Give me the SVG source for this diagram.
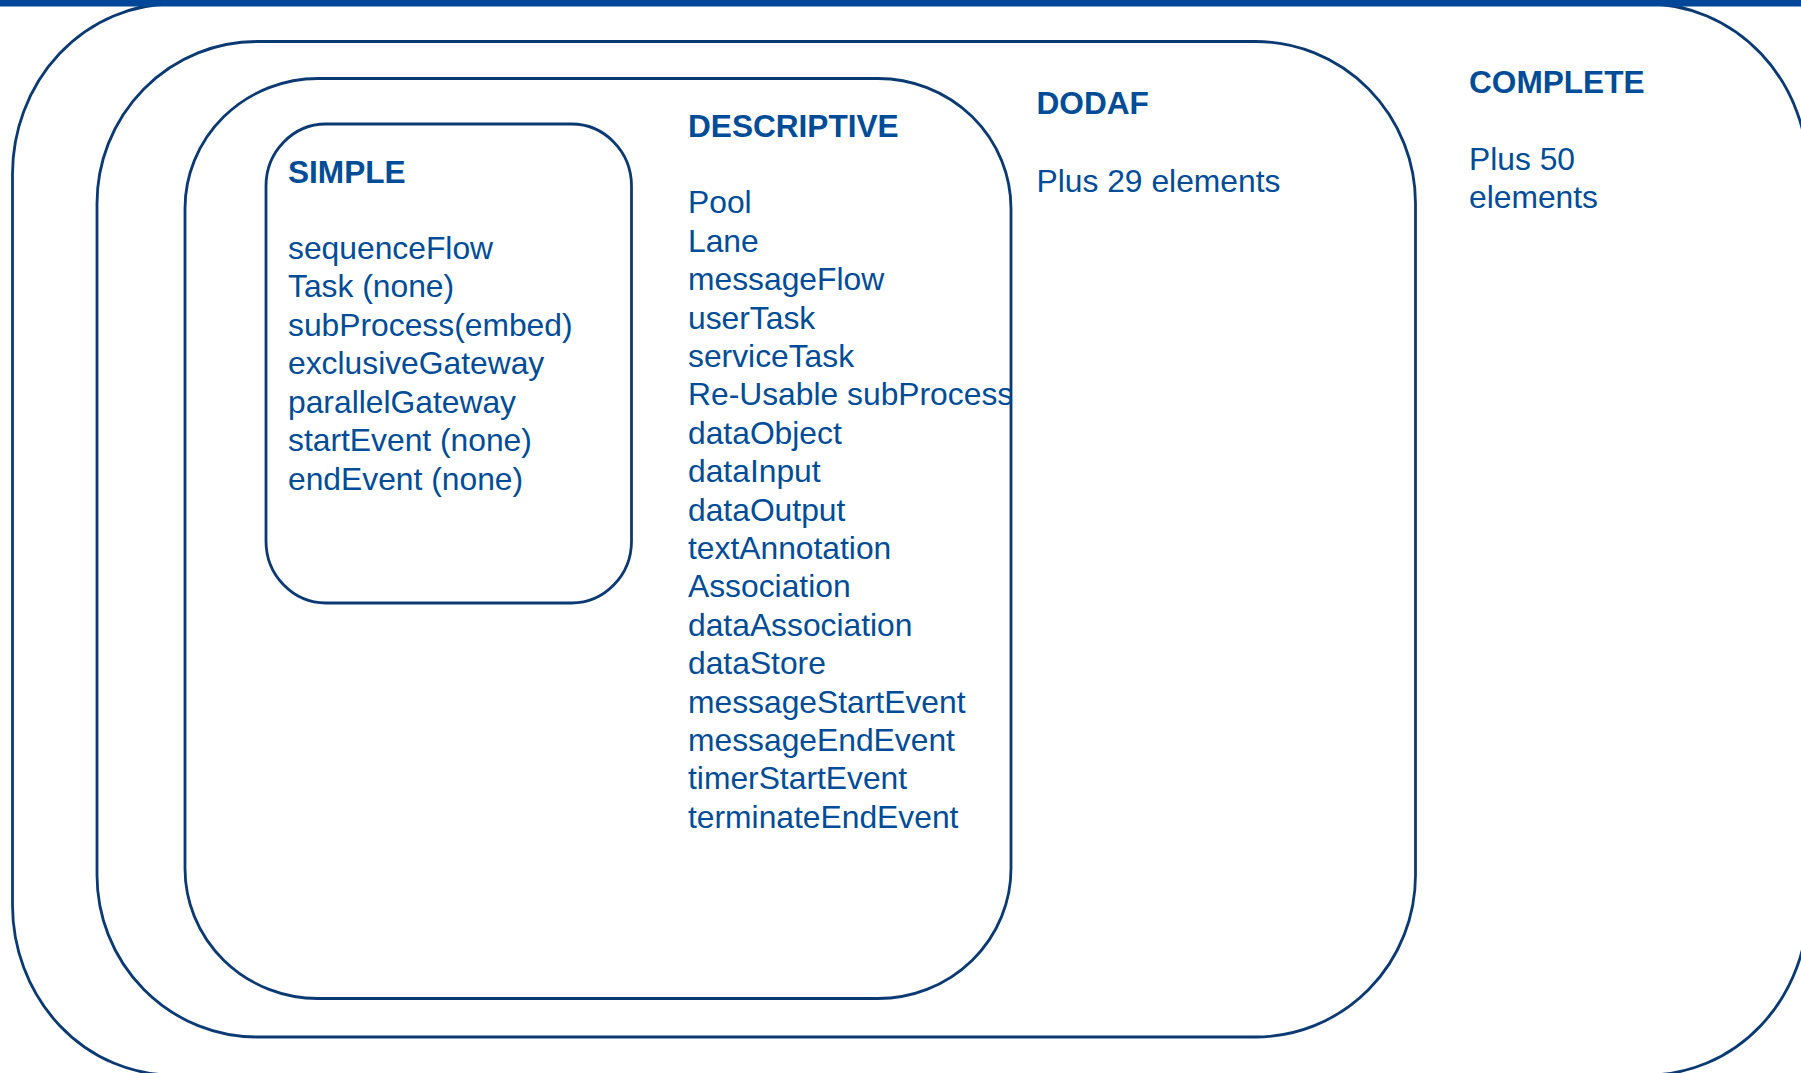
<svg xmlns="http://www.w3.org/2000/svg" width="1801" height="1073" viewBox="0 0 1801 1073">
<style>
.box{fill:none;stroke:#0b3a73;stroke-width:2.8}
.h{font-family:"Liberation Sans",Arial,sans-serif;font-weight:bold;font-size:31.6px;fill:#004c97}
.t{font-family:"Liberation Sans",Arial,sans-serif;font-size:31.8px;fill:#004c97}
</style>
<rect x="0" y="0" width="1801" height="1073" fill="#ffffff"/>
<g id="complete">
<rect class="box" x="12.5" y="4" width="1795.5" height="1071" rx="160" ry="170"/>
<text class="h" x="1469" y="93">COMPLETE</text>
<text class="t" x="1469" y="170">Plus 50</text>
<text class="t" x="1469" y="208">elements</text>
</g>
<rect x="0" y="0" width="1801" height="6.5" fill="#00479a"/>
<g id="dodaf">
<rect class="box" x="97" y="41.5" width="1318.5" height="995.5" rx="160" ry="162"/>
<text class="h" x="1036.5" y="114">DODAF</text>
<text class="t" x="1036.5" y="191.5">Plus 29 elements</text>
</g>
<g id="descriptive">
<rect class="box" x="185" y="78.5" width="826" height="920" rx="133" ry="130"/>
<text class="h" x="688" y="136.5">DESCRIPTIVE</text>
<text class="t" x="688" y="213.3">Pool</text>
<text class="t" x="688" y="251.7">Lane</text>
<text class="t" x="688" y="290.1">messageFlow</text>
<text class="t" x="688" y="328.5">userTask</text>
<text class="t" x="688" y="366.9">serviceTask</text>
<text class="t" x="688" y="405.3">Re-Usable subProcess</text>
<text class="t" x="688" y="443.7">dataObject</text>
<text class="t" x="688" y="482.1">dataInput</text>
<text class="t" x="688" y="520.5">dataOutput</text>
<text class="t" x="688" y="558.9">textAnnotation</text>
<text class="t" x="688" y="597.3">Association</text>
<text class="t" x="688" y="635.7">dataAssociation</text>
<text class="t" x="688" y="674.1">dataStore</text>
<text class="t" x="688" y="712.5">messageStartEvent</text>
<text class="t" x="688" y="750.9">messageEndEvent</text>
<text class="t" x="688" y="789.3">timerStartEvent</text>
<text class="t" x="688" y="827.7">terminateEndEvent</text>
</g>
<g id="simple">
<rect class="box" x="266" y="124" width="365.5" height="479" rx="60" ry="62"/>
<text class="h" x="288" y="183">SIMPLE</text>
<text class="t" x="288" y="258.8">sequenceFlow</text>
<text class="t" x="288" y="297.3">Task (none)</text>
<text class="t" x="288" y="335.8">subProcess(embed)</text>
<text class="t" x="288" y="374.3">exclusiveGateway</text>
<text class="t" x="288" y="412.8">parallelGateway</text>
<text class="t" x="288" y="451.3">startEvent (none)</text>
<text class="t" x="288" y="489.8">endEvent (none)</text>
</g>
<g id="connectors"/>
</svg>
